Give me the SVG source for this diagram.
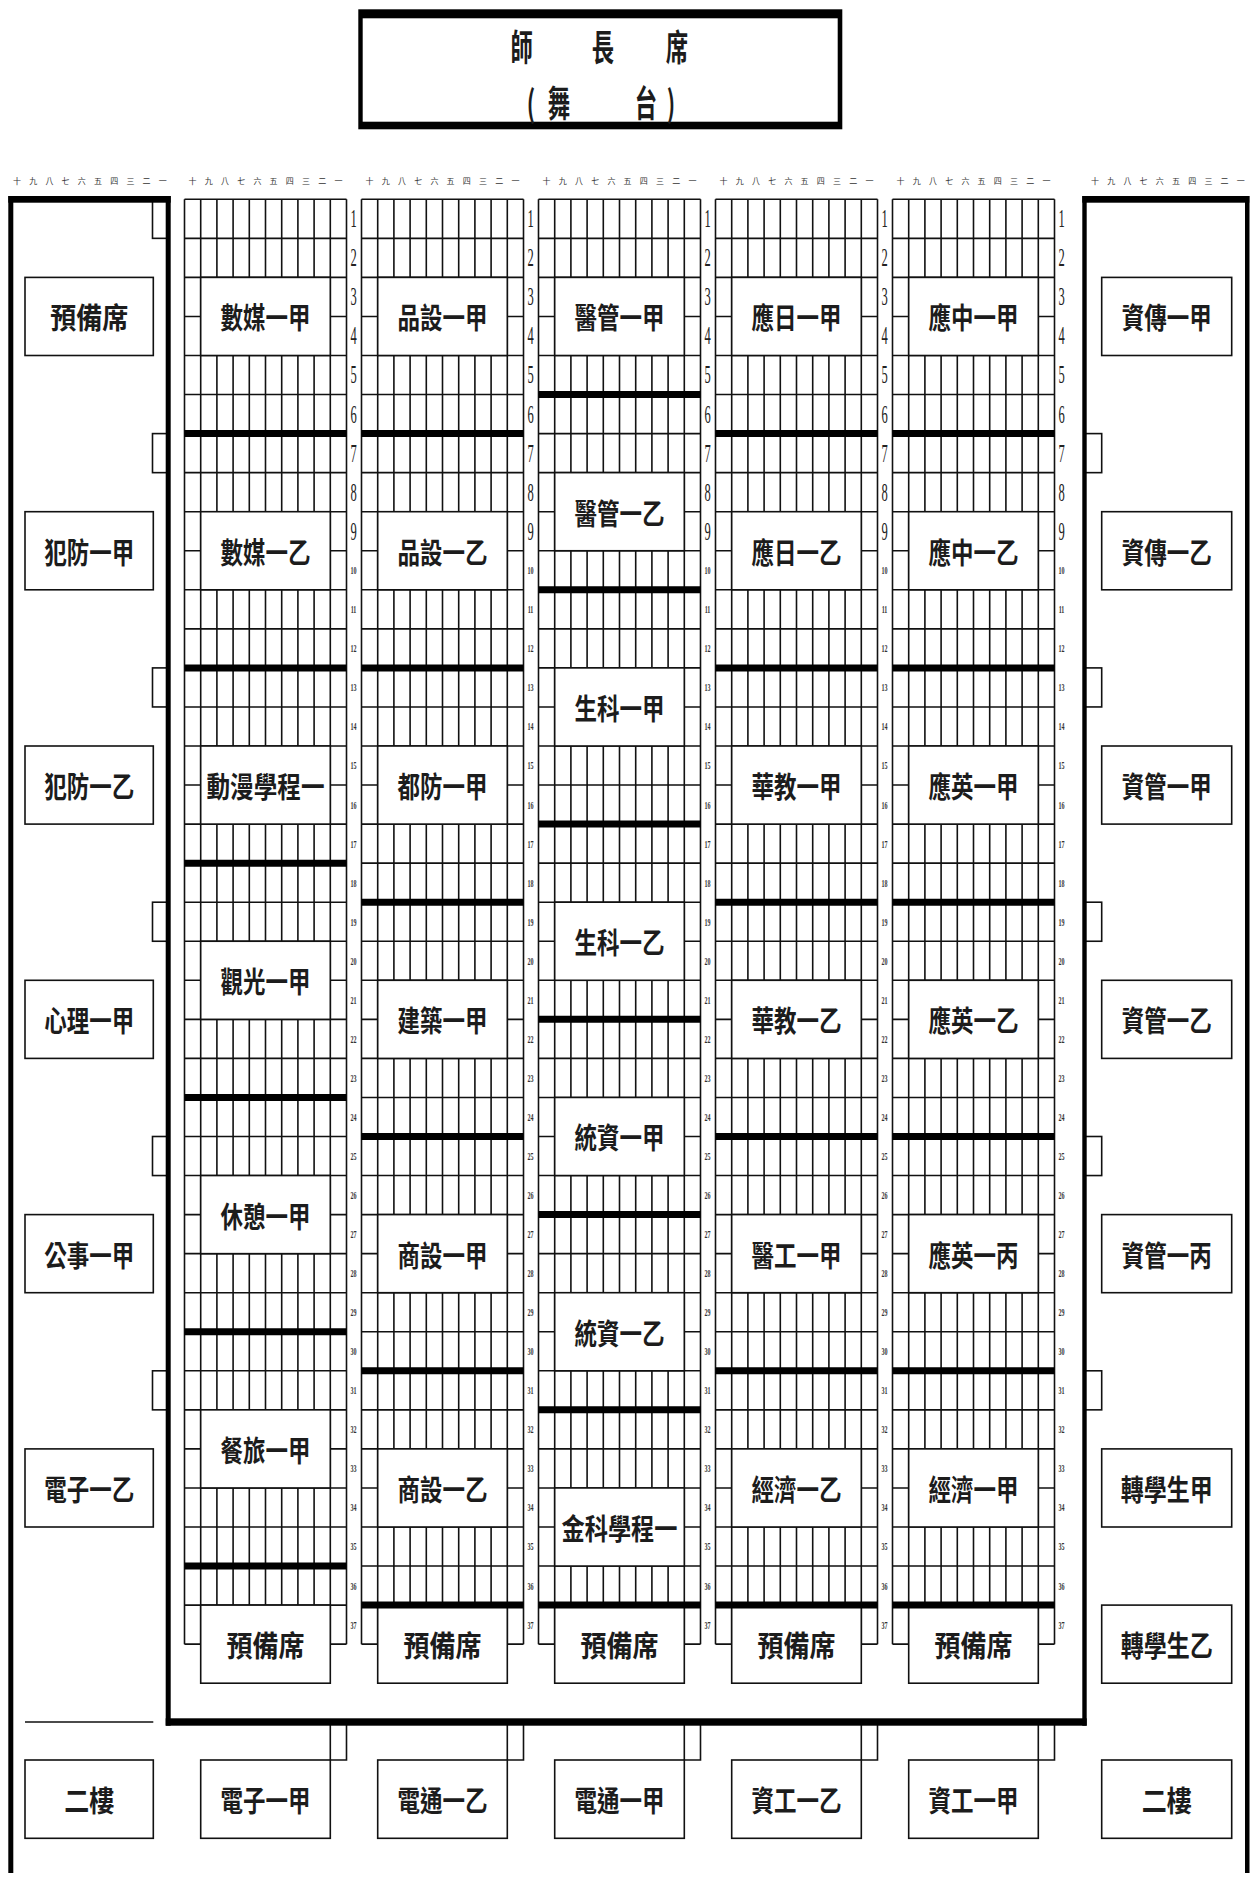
<svg xmlns="http://www.w3.org/2000/svg" width="1255" height="1877" viewBox="0 0 1255 1877">
<style>
.g{fill:none;stroke:#111;stroke-width:1.6}
.th{fill:none;stroke:#000;stroke-width:7}
.bx{fill:#fff;stroke:#111;stroke-width:1.6}
.nt{fill:none;stroke:#111;stroke-width:1.6}
.bd{fill:#000}
.lb{font-family:"Noto Sans CJK TC","Noto Sans CJK SC",sans-serif;font-size:29px;font-weight:700;fill:#1c1c1c;text-anchor:middle;dominant-baseline:central}
.st{font-family:"Noto Sans CJK TC","Noto Sans CJK SC",sans-serif;font-size:36px;font-weight:700;fill:#1c1c1c;text-anchor:middle;dominant-baseline:central}
.nb{font-family:"Liberation Serif",serif;font-size:25px;fill:#222;text-anchor:middle}
.ns{font-family:"Liberation Serif",serif;font-size:11px;font-weight:700;fill:#333;text-anchor:middle}
.hd{font-family:"Noto Sans CJK TC",sans-serif;font-size:8px;fill:#333;letter-spacing:8.2px}
</style>
<defs>
<path id="grid" class="g" d="M0 0V1444.85M16.2 0V1444.85M32.4 0V1444.85M48.6 0V1444.85M64.8 0V1444.85M81 0V1444.85M97.2 0V1444.85M113.4 0V1444.85M129.6 0V1444.85M145.8 0V1444.85M162 0V1444.85M0 0H162M0 39.05H162M0 78.1H162M0 117.15H162M0 156.2H162M0 195.25H162M0 234.3H162M0 273.35H162M0 312.4H162M0 351.45H162M0 390.5H162M0 429.55H162M0 468.6H162M0 507.65H162M0 546.7H162M0 585.75H162M0 624.8H162M0 663.85H162M0 702.9H162M0 741.95H162M0 781H162M0 820.05H162M0 859.1H162M0 898.15H162M0 937.2H162M0 976.25H162M0 1015.3H162M0 1054.35H162M0 1093.4H162M0 1132.45H162M0 1171.5H162M0 1210.55H162M0 1249.6H162M0 1288.65H162M0 1327.7H162M0 1366.75H162M0 1405.8H162M0 1444.85H162"/>
<g id="nums">
<g transform="scale(0.5,1)">
<text class="nb" x="0" y="28">1</text>
<text class="nb" x="0" y="67.1">2</text>
<text class="nb" x="0" y="106.1">3</text>
<text class="nb" x="0" y="145.2">4</text>
<text class="nb" x="0" y="184.2">5</text>
<text class="nb" x="0" y="223.3">6</text>
<text class="nb" x="0" y="262.3">7</text>
<text class="nb" x="0" y="301.4">8</text>
<text class="nb" x="0" y="340.4">9</text>
</g>
<g transform="scale(0.55,1)">
<text class="ns" x="0" y="375">10</text>
<text class="ns" x="0" y="414">11</text>
<text class="ns" x="0" y="453.1">12</text>
<text class="ns" x="0" y="492.1">13</text>
<text class="ns" x="0" y="531.2">14</text>
<text class="ns" x="0" y="570.2">15</text>
<text class="ns" x="0" y="609.3">16</text>
<text class="ns" x="0" y="648.3">17</text>
<text class="ns" x="0" y="687.4">18</text>
<text class="ns" x="0" y="726.4">19</text>
<text class="ns" x="0" y="765.5">20</text>
<text class="ns" x="0" y="804.5">21</text>
<text class="ns" x="0" y="843.6">22</text>
<text class="ns" x="0" y="882.6">23</text>
<text class="ns" x="0" y="921.7">24</text>
<text class="ns" x="0" y="960.7">25</text>
<text class="ns" x="0" y="999.8">26</text>
<text class="ns" x="0" y="1038.8">27</text>
<text class="ns" x="0" y="1077.9">28</text>
<text class="ns" x="0" y="1116.9">29</text>
<text class="ns" x="0" y="1156">30</text>
<text class="ns" x="0" y="1195">31</text>
<text class="ns" x="0" y="1234.1">32</text>
<text class="ns" x="0" y="1273.1">33</text>
<text class="ns" x="0" y="1312.2">34</text>
<text class="ns" x="0" y="1351.2">35</text>
<text class="ns" x="0" y="1390.3">36</text>
<text class="ns" x="0" y="1429.3">37</text>
</g>
</g>
<text id="hd" class="hd" x="4.1" y="0">十九八七六五四三二一</text>
</defs>
<rect width="1255" height="1877" fill="#fff"/>

<g id="stage">
<rect class="bd" x="358.3" y="9.3" width="484" height="120"/>
<rect fill="#fff" x="362.7" y="18.3" width="475" height="103.4"/>
<text class="st" transform="scale(0.62,1)" x="841.5 972.6 1091.9" y="45">師長席</text>
<text class="st" transform="scale(0.62,1)" x="856.5 901.6 1041.9 1082.3" y="101">(舞台)</text>
</g>

<g id="column-headers">
<use href="#hd" x="8.9" y="184"/>
<use href="#hd" x="184.5" y="184"/>
<use href="#hd" x="361.5" y="184"/>
<use href="#hd" x="538.5" y="184"/>
<use href="#hd" x="715.5" y="184"/>
<use href="#hd" x="892.5" y="184"/>
<use href="#hd" x="1086.9" y="184"/>
</g>

<g id="connectors">
<path class="g" d="M25 1722H153.3M330.3 1722V1760M346.5 1722V1760H330.3M507.3 1722V1760M523.5 1722V1760H507.3M684.3 1722V1760M700.5 1722V1760H684.3M861.3 1722V1760M877.5 1722V1760H861.3M1038.3 1722V1760M1054.5 1722V1760H1038.3"/>
</g>

<g transform="translate(0,199.3)">
<g id="row-numbers">
<use href="#nums" x="353.5"/>
<use href="#nums" x="530.5"/>
<use href="#nums" x="707.5"/>
<use href="#nums" x="884.5"/>
<use href="#nums" x="1061.5"/>
</g>

<g id="left-side">
<rect class="nt" x="152.5" y="0" width="16" height="39.05"/>
<rect class="nt" x="152.5" y="234.3" width="16" height="39.05"/>
<rect class="nt" x="152.5" y="468.6" width="16" height="39.05"/>
<rect class="nt" x="152.5" y="702.9" width="16" height="39.05"/>
<rect class="nt" x="152.5" y="937.2" width="16" height="39.05"/>
<rect class="nt" x="152.5" y="1171.5" width="16" height="39.05"/>
<g id="L-yubei"><rect class="bx" x="25" y="78.1" width="128.3" height="78.1"/><text class="lb" x="89.2" y="117.15" textLength="78" lengthAdjust="spacingAndGlyphs">預備席</text></g>
<g id="L-fanfang-jia"><rect class="bx" x="25" y="312.4" width="128.3" height="78.1"/><text class="lb" x="89.2" y="351.45" textLength="90" lengthAdjust="spacingAndGlyphs">犯防一甲</text></g>
<g id="L-fanfang-yi"><rect class="bx" x="25" y="546.7" width="128.3" height="78.1"/><text class="lb" x="89.2" y="585.75" textLength="90" lengthAdjust="spacingAndGlyphs">犯防一乙</text></g>
<g id="L-xinli-jia"><rect class="bx" x="25" y="781" width="128.3" height="78.1"/><text class="lb" x="89.2" y="820.05" textLength="90" lengthAdjust="spacingAndGlyphs">心理一甲</text></g>
<g id="L-gongshi-jia"><rect class="bx" x="25" y="1015.3" width="128.3" height="78.1"/><text class="lb" x="89.2" y="1054.35" textLength="90" lengthAdjust="spacingAndGlyphs">公事一甲</text></g>
<g id="L-dianzi-yi"><rect class="bx" x="25" y="1249.6" width="128.3" height="78.1"/><text class="lb" x="89.2" y="1288.65" textLength="90" lengthAdjust="spacingAndGlyphs">電子一乙</text></g>
</g>

<g id="right-side">
<rect class="nt" x="1084.5" y="234.3" width="17.2" height="39.05"/>
<rect class="nt" x="1084.5" y="468.6" width="17.2" height="39.05"/>
<rect class="nt" x="1084.5" y="702.9" width="17.2" height="39.05"/>
<rect class="nt" x="1084.5" y="937.2" width="17.2" height="39.05"/>
<rect class="nt" x="1084.5" y="1171.5" width="17.2" height="39.05"/>
<g id="R-zichuan-jia"><rect class="bx" x="1101.7" y="78.1" width="130" height="78.1"/><text class="lb" x="1166.7" y="117.15" textLength="90" lengthAdjust="spacingAndGlyphs">資傳一甲</text></g>
<g id="R-zichuan-yi"><rect class="bx" x="1101.7" y="312.4" width="130" height="78.1"/><text class="lb" x="1166.7" y="351.45" textLength="90" lengthAdjust="spacingAndGlyphs">資傳一乙</text></g>
<g id="R-ziguan-jia"><rect class="bx" x="1101.7" y="546.7" width="130" height="78.1"/><text class="lb" x="1166.7" y="585.75" textLength="90" lengthAdjust="spacingAndGlyphs">資管一甲</text></g>
<g id="R-ziguan-yi"><rect class="bx" x="1101.7" y="781" width="130" height="78.1"/><text class="lb" x="1166.7" y="820.05" textLength="90" lengthAdjust="spacingAndGlyphs">資管一乙</text></g>
<g id="R-ziguan-bing"><rect class="bx" x="1101.7" y="1015.3" width="130" height="78.1"/><text class="lb" x="1166.7" y="1054.35" textLength="90" lengthAdjust="spacingAndGlyphs">資管一丙</text></g>
<g id="R-zhuanxue-jia"><rect class="bx" x="1101.7" y="1249.6" width="130" height="78.1"/><text class="lb" x="1166.7" y="1288.65" textLength="92" lengthAdjust="spacingAndGlyphs">轉學生甲</text></g>
<g id="R-zhuanxue-yi"><rect class="bx" x="1101.7" y="1405.8" width="130" height="78.1"/><text class="lb" x="1166.7" y="1444.85" textLength="92" lengthAdjust="spacingAndGlyphs">轉學生乙</text></g>
</g>

<g id="block1" transform="translate(184.5,0)">
<use href="#grid"/>
<g id="b1-1"><rect class="bx" x="16.2" y="78.1" width="129.6" height="78.1"/><text class="lb" x="81" y="117.15" textLength="90" lengthAdjust="spacingAndGlyphs">數媒一甲</text></g>
<g id="b1-2"><rect class="bx" x="16.2" y="312.4" width="129.6" height="78.1"/><text class="lb" x="81" y="351.45" textLength="90" lengthAdjust="spacingAndGlyphs">數媒一乙</text></g>
<g id="b1-3"><rect class="bx" x="16.2" y="546.7" width="129.6" height="78.1"/><text class="lb" x="81" y="585.75" textLength="118" lengthAdjust="spacingAndGlyphs">動漫學程一</text></g>
<g id="b1-4"><rect class="bx" x="16.2" y="741.95" width="129.6" height="78.1"/><text class="lb" x="81" y="781" textLength="90" lengthAdjust="spacingAndGlyphs">觀光一甲</text></g>
<g id="b1-5"><rect class="bx" x="16.2" y="976.25" width="129.6" height="78.1"/><text class="lb" x="81" y="1015.3" textLength="90" lengthAdjust="spacingAndGlyphs">休憩一甲</text></g>
<g id="b1-6"><rect class="bx" x="16.2" y="1210.55" width="129.6" height="78.1"/><text class="lb" x="81" y="1249.6" textLength="90" lengthAdjust="spacingAndGlyphs">餐旅一甲</text></g>
<g id="b1-7"><rect class="bx" x="16.2" y="1405.8" width="129.6" height="78.1"/><text class="lb" x="81" y="1444.85" textLength="78" lengthAdjust="spacingAndGlyphs">預備席</text></g>
<path class="th" d="M0 234.3H162M0 468.6H162M0 663.85H162M0 898.15H162M0 1132.45H162M0 1366.75H162"/>
</g>

<g id="block2" transform="translate(361.5,0)">
<use href="#grid"/>
<g id="b2-1"><rect class="bx" x="16.2" y="78.1" width="129.6" height="78.1"/><text class="lb" x="81" y="117.15" textLength="90" lengthAdjust="spacingAndGlyphs">品設一甲</text></g>
<g id="b2-2"><rect class="bx" x="16.2" y="312.4" width="129.6" height="78.1"/><text class="lb" x="81" y="351.45" textLength="90" lengthAdjust="spacingAndGlyphs">品設一乙</text></g>
<g id="b2-3"><rect class="bx" x="16.2" y="546.7" width="129.6" height="78.1"/><text class="lb" x="81" y="585.75" textLength="90" lengthAdjust="spacingAndGlyphs">都防一甲</text></g>
<g id="b2-4"><rect class="bx" x="16.2" y="781" width="129.6" height="78.1"/><text class="lb" x="81" y="820.05" textLength="90" lengthAdjust="spacingAndGlyphs">建築一甲</text></g>
<g id="b2-5"><rect class="bx" x="16.2" y="1015.3" width="129.6" height="78.1"/><text class="lb" x="81" y="1054.35" textLength="90" lengthAdjust="spacingAndGlyphs">商設一甲</text></g>
<g id="b2-6"><rect class="bx" x="16.2" y="1249.6" width="129.6" height="78.1"/><text class="lb" x="81" y="1288.65" textLength="90" lengthAdjust="spacingAndGlyphs">商設一乙</text></g>
<g id="b2-7"><rect class="bx" x="16.2" y="1405.8" width="129.6" height="78.1"/><text class="lb" x="81" y="1444.85" textLength="78" lengthAdjust="spacingAndGlyphs">預備席</text></g>
<path class="th" d="M0 234.3H162M0 468.6H162M0 702.9H162M0 937.2H162M0 1171.5H162M0 1405.8H162"/>
</g>

<g id="block3" transform="translate(538.5,0)">
<use href="#grid"/>
<g id="b3-1"><rect class="bx" x="16.2" y="78.1" width="129.6" height="78.1"/><text class="lb" x="81" y="117.15" textLength="90" lengthAdjust="spacingAndGlyphs">醫管一甲</text></g>
<g id="b3-2"><rect class="bx" x="16.2" y="273.35" width="129.6" height="78.1"/><text class="lb" x="81" y="312.4" textLength="90" lengthAdjust="spacingAndGlyphs">醫管一乙</text></g>
<g id="b3-3"><rect class="bx" x="16.2" y="468.6" width="129.6" height="78.1"/><text class="lb" x="81" y="507.65" textLength="90" lengthAdjust="spacingAndGlyphs">生科一甲</text></g>
<g id="b3-4"><rect class="bx" x="16.2" y="702.9" width="129.6" height="78.1"/><text class="lb" x="81" y="741.95" textLength="90" lengthAdjust="spacingAndGlyphs">生科一乙</text></g>
<g id="b3-5"><rect class="bx" x="16.2" y="898.15" width="129.6" height="78.1"/><text class="lb" x="81" y="937.2" textLength="90" lengthAdjust="spacingAndGlyphs">統資一甲</text></g>
<g id="b3-6"><rect class="bx" x="16.2" y="1093.4" width="129.6" height="78.1"/><text class="lb" x="81" y="1132.45" textLength="90" lengthAdjust="spacingAndGlyphs">統資一乙</text></g>
<g id="b3-7"><rect class="bx" x="16.2" y="1288.65" width="129.6" height="78.1"/><text class="lb" x="81" y="1327.7" textLength="116" lengthAdjust="spacingAndGlyphs">金科學程一</text></g>
<g id="b3-8"><rect class="bx" x="16.2" y="1405.8" width="129.6" height="78.1"/><text class="lb" x="81" y="1444.85" textLength="78" lengthAdjust="spacingAndGlyphs">預備席</text></g>
<path class="th" d="M0 195.25H162M0 390.5H162M0 624.8H162M0 820.05H162M0 1015.3H162M0 1210.55H162M0 1405.8H162"/>
</g>

<g id="block4" transform="translate(715.5,0)">
<use href="#grid"/>
<g id="b4-1"><rect class="bx" x="16.2" y="78.1" width="129.6" height="78.1"/><text class="lb" x="81" y="117.15" textLength="90" lengthAdjust="spacingAndGlyphs">應日一甲</text></g>
<g id="b4-2"><rect class="bx" x="16.2" y="312.4" width="129.6" height="78.1"/><text class="lb" x="81" y="351.45" textLength="90" lengthAdjust="spacingAndGlyphs">應日一乙</text></g>
<g id="b4-3"><rect class="bx" x="16.2" y="546.7" width="129.6" height="78.1"/><text class="lb" x="81" y="585.75" textLength="90" lengthAdjust="spacingAndGlyphs">華教一甲</text></g>
<g id="b4-4"><rect class="bx" x="16.2" y="781" width="129.6" height="78.1"/><text class="lb" x="81" y="820.05" textLength="90" lengthAdjust="spacingAndGlyphs">華教一乙</text></g>
<g id="b4-5"><rect class="bx" x="16.2" y="1015.3" width="129.6" height="78.1"/><text class="lb" x="81" y="1054.35" textLength="90" lengthAdjust="spacingAndGlyphs">醫工一甲</text></g>
<g id="b4-6"><rect class="bx" x="16.2" y="1249.6" width="129.6" height="78.1"/><text class="lb" x="81" y="1288.65" textLength="90" lengthAdjust="spacingAndGlyphs">經濟一乙</text></g>
<g id="b4-7"><rect class="bx" x="16.2" y="1405.8" width="129.6" height="78.1"/><text class="lb" x="81" y="1444.85" textLength="78" lengthAdjust="spacingAndGlyphs">預備席</text></g>
<path class="th" d="M0 234.3H162M0 468.6H162M0 702.9H162M0 937.2H162M0 1171.5H162M0 1405.8H162"/>
</g>

<g id="block5" transform="translate(892.5,0)">
<use href="#grid"/>
<g id="b5-1"><rect class="bx" x="16.2" y="78.1" width="129.6" height="78.1"/><text class="lb" x="81" y="117.15" textLength="90" lengthAdjust="spacingAndGlyphs">應中一甲</text></g>
<g id="b5-2"><rect class="bx" x="16.2" y="312.4" width="129.6" height="78.1"/><text class="lb" x="81" y="351.45" textLength="90" lengthAdjust="spacingAndGlyphs">應中一乙</text></g>
<g id="b5-3"><rect class="bx" x="16.2" y="546.7" width="129.6" height="78.1"/><text class="lb" x="81" y="585.75" textLength="90" lengthAdjust="spacingAndGlyphs">應英一甲</text></g>
<g id="b5-4"><rect class="bx" x="16.2" y="781" width="129.6" height="78.1"/><text class="lb" x="81" y="820.05" textLength="90" lengthAdjust="spacingAndGlyphs">應英一乙</text></g>
<g id="b5-5"><rect class="bx" x="16.2" y="1015.3" width="129.6" height="78.1"/><text class="lb" x="81" y="1054.35" textLength="90" lengthAdjust="spacingAndGlyphs">應英一丙</text></g>
<g id="b5-6"><rect class="bx" x="16.2" y="1249.6" width="129.6" height="78.1"/><text class="lb" x="81" y="1288.65" textLength="90" lengthAdjust="spacingAndGlyphs">經濟一甲</text></g>
<g id="b5-7"><rect class="bx" x="16.2" y="1405.8" width="129.6" height="78.1"/><text class="lb" x="81" y="1444.85" textLength="78" lengthAdjust="spacingAndGlyphs">預備席</text></g>
<path class="th" d="M0 234.3H162M0 468.6H162M0 702.9H162M0 937.2H162M0 1171.5H162M0 1405.8H162"/>
</g>
</g>

<g id="bottom-row">
<g id="B-erlou-left"><rect class="bx" x="25" y="1760" width="128.3" height="78.3"/><text class="lb" x="89.2" y="1799" textLength="50" lengthAdjust="spacingAndGlyphs">二樓</text></g>
<g id="B-dianzi-jia"><rect class="bx" x="200.7" y="1760" width="129.6" height="78.3"/><text class="lb" x="265.5" y="1799" textLength="90" lengthAdjust="spacingAndGlyphs">電子一甲</text></g>
<g id="B-diantong-yi"><rect class="bx" x="377.7" y="1760" width="129.6" height="78.3"/><text class="lb" x="442.5" y="1799" textLength="90" lengthAdjust="spacingAndGlyphs">電通一乙</text></g>
<g id="B-diantong-jia"><rect class="bx" x="554.7" y="1760" width="129.6" height="78.3"/><text class="lb" x="619.5" y="1799" textLength="90" lengthAdjust="spacingAndGlyphs">電通一甲</text></g>
<g id="B-zigong-yi"><rect class="bx" x="731.7" y="1760" width="129.6" height="78.3"/><text class="lb" x="796.5" y="1799" textLength="90" lengthAdjust="spacingAndGlyphs">資工一乙</text></g>
<g id="B-zigong-jia"><rect class="bx" x="908.7" y="1760" width="129.6" height="78.3"/><text class="lb" x="973.5" y="1799" textLength="90" lengthAdjust="spacingAndGlyphs">資工一甲</text></g>
<g id="B-erlou-right"><rect class="bx" x="1101.7" y="1760" width="130" height="78.3"/><text class="lb" x="1166.7" y="1799" textLength="50" lengthAdjust="spacingAndGlyphs">二樓</text></g>
</g>

<g id="walls">
<rect class="bd" x="8.3" y="196" width="5" height="1677"/>
<rect class="bd" x="8.3" y="196" width="162.4" height="6.7"/>
<rect class="bd" x="165.7" y="196" width="5" height="1529.7"/>
<rect class="bd" x="165.7" y="1718.3" width="921" height="7.4"/>
<rect class="bd" x="1082.3" y="196" width="4.4" height="1529.7"/>
<rect class="bd" x="1082.3" y="196" width="167" height="6.7"/>
<rect class="bd" x="1245" y="196" width="4.5" height="1677"/>
</g>
</svg>
